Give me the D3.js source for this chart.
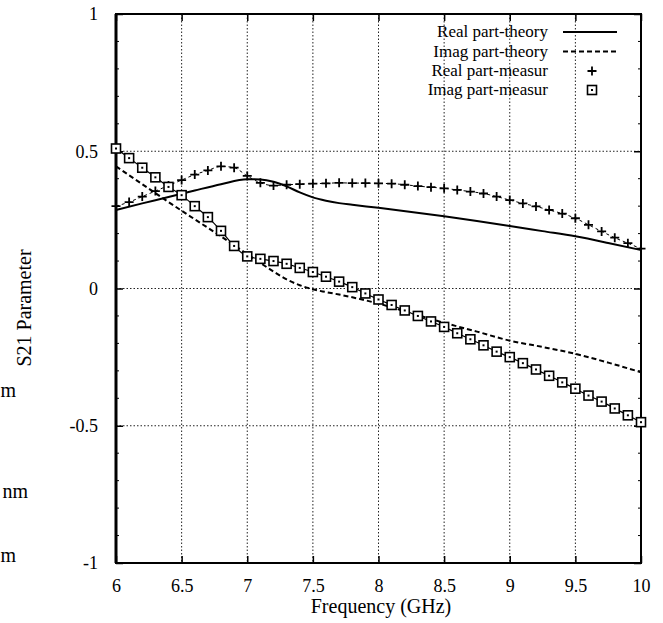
<!DOCTYPE html>
<html>
<head>
<meta charset="utf-8">
<script src="https://cdn.jsdelivr.net/npm/d3@7"></script>
<style>
  body { margin: 0; background: #fff; }
  svg text { font-family: "Liberation Serif", "Times New Roman", serif; fill: #000; }
</style>
</head>
<body>
<svg width="663" height="623"></svg>
<script>
// theory curves
const theoryFreq = [6.0, 6.2, 6.4, 6.6, 6.8, 7.0, 7.1, 7.2, 7.3, 7.4, 7.5, 7.6, 7.7, 7.8, 8.0, 8.25, 8.5, 8.75, 9.0, 9.25, 9.5, 9.75, 10.0];
const realTheory = [0.286, 0.31, 0.333, 0.357, 0.38, 0.398, 0.397, 0.389, 0.372, 0.35, 0.332, 0.32, 0.311, 0.305, 0.294, 0.279, 0.263, 0.246, 0.228, 0.209, 0.19, 0.166, 0.14];
const imagTheory = [0.445, 0.38, 0.315, 0.252, 0.19, 0.125, 0.093, 0.062, 0.033, 0.012, -0.003, -0.013, -0.022, -0.032, -0.055, -0.09, -0.125, -0.157, -0.19, -0.213, -0.238, -0.27, -0.305];

// measured points
const measFreq = [6.0, 6.1, 6.2, 6.3, 6.4, 6.5, 6.6, 6.7, 6.8, 6.9, 7.0, 7.1, 7.2, 7.3, 7.4, 7.5, 7.6, 7.7, 7.8, 7.9, 8.0,
  8.1, 8.2, 8.3, 8.4, 8.5, 8.6, 8.7, 8.8, 8.9, 9.0, 9.1, 9.2, 9.3, 9.4, 9.5, 9.6, 9.7, 9.8, 9.9, 10.0];
const realMeas = [0.30, 0.315, 0.335, 0.355, 0.375, 0.395, 0.415, 0.43, 0.445, 0.44, 0.41, 0.385, 0.375, 0.378, 0.38, 0.382, 0.383, 0.385, 0.384, 0.384, 0.383,
  0.382, 0.378, 0.373, 0.369, 0.365, 0.359, 0.353, 0.346, 0.335, 0.322, 0.31, 0.299, 0.286, 0.273, 0.256, 0.232, 0.208, 0.185, 0.165, 0.145];
const imagMeas = [0.51, 0.475, 0.44, 0.405, 0.37, 0.34, 0.30, 0.26, 0.21, 0.155, 0.117, 0.108, 0.10, 0.09, 0.075, 0.06, 0.043, 0.025, 0.005, -0.018, -0.04,
  -0.06, -0.08, -0.10, -0.12, -0.14, -0.163, -0.185, -0.207, -0.23, -0.25, -0.272, -0.295, -0.318, -0.342, -0.365, -0.39, -0.412, -0.437, -0.462, -0.487];

const xTicks = [6, 6.5, 7, 7.5, 8, 8.5, 9, 9.5, 10];
const yTicks = [-1, -0.5, 0, 0.5, 1];
const legendLabels = ["Real part-theory", "Imag part-theory", "Real part-measur", "Imag part-measur"];

const svg = d3.select("svg");
const plotL = 116, plotR = 641, plotT = 14, plotB = 563;

const x = d3.scaleLinear().domain([6, 10]).range([plotL, plotR]);
const y = d3.scaleLinear().domain([-1, 1]).range([plotB, plotT]);

// grid
const grid = svg.append("g").attr("stroke", "#222").attr("stroke-width", 1).attr("stroke-dasharray", "1.5,2");
grid.selectAll("line.gx")
  .data(xTicks.slice(1, -1))
  .join("line")
  .attr("class", "gx")
  .attr("x1", (d) => x(d)).attr("x2", (d) => x(d))
  .attr("y1", plotT).attr("y2", plotB);
grid.selectAll("line.gy")
  .data(yTicks.slice(1, -1))
  .join("line")
  .attr("class", "gy")
  .attr("x1", plotL).attr("x2", plotR)
  .attr("y1", (d) => y(d)).attr("y2", (d) => y(d));

// axes, ticks pointing inward (plain hyphen for negatives, like the scan)
const fmt = (d) => String(d);
const xAxis = svg.append("g")
  .attr("transform", `translate(0,${plotB})`)
  .call(d3.axisBottom(x).tickValues(xTicks).tickFormat(fmt).tickSizeInner(-7).tickSizeOuter(0).tickPadding(16));
const xTop = svg.append("g")
  .attr("transform", `translate(0,${plotT})`)
  .call(d3.axisTop(x).tickValues(xTicks).tickFormat("").tickSizeInner(-7).tickSizeOuter(0));
const yAxis = svg.append("g")
  .attr("transform", `translate(${plotL},0)`)
  .call(d3.axisLeft(y).tickValues(yTicks).tickFormat(fmt).tickSizeInner(-7).tickSizeOuter(0).tickPadding(18));
const yRight = svg.append("g")
  .attr("transform", `translate(${plotR},0)`)
  .call(d3.axisRight(y).tickValues(yTicks).tickFormat("").tickSizeInner(-7).tickSizeOuter(0));

[xAxis, xTop, yAxis, yRight].forEach((g) => {
  g.select(".domain").remove();
  g.selectAll("line").attr("stroke", "#000").attr("stroke-width", 1.5);
  g.selectAll("text").style("font-size", "18px").attr("fill", "#000");
});

// minor y ticks
const minorY = [-0.9, -0.8, -0.7, -0.6, -0.4, -0.3, -0.2, -0.1, 0.1, 0.2, 0.3, 0.4, 0.6, 0.7, 0.8, 0.9];
[yAxis, yRight].forEach((g, i) => {
  g.selectAll("line.minor")
    .data(minorY)
    .join("line")
    .attr("class", "minor")
    .attr("x1", 0).attr("x2", i === 0 ? 3 : -3)
    .attr("y1", (d) => y(d)).attr("y2", (d) => y(d))
    .attr("stroke", "#000");
});

// frame
svg.append("rect")
  .attr("x", plotL).attr("y", plotT)
  .attr("width", plotR - plotL).attr("height", plotB - plotT)
  .attr("fill", "none").attr("stroke", "#000").attr("stroke-width", 2);
svg.append("line")
  .attr("x1", plotL).attr("x2", plotL).attr("y1", plotT).attr("y2", plotB)
  .attr("stroke", "#000").attr("stroke-width", 3);

// curves
const theory = theoryFreq.map((f, i) => ({ f, re: realTheory[i], im: imagTheory[i] }));
const meas = measFreq.map((f, i) => ({ f, re: realMeas[i], im: imagMeas[i] }));

const lineRe = d3.line().x((d) => x(d.f)).y((d) => y(d.re)).curve(d3.curveMonotoneX);
const lineIm = d3.line().x((d) => x(d.f)).y((d) => y(d.im)).curve(d3.curveMonotoneX);

svg.append("path").datum(theory).attr("d", lineRe)
  .attr("fill", "none").attr("stroke", "#000").attr("stroke-width", 2);
svg.append("path").datum(theory).attr("d", lineIm)
  .attr("fill", "none").attr("stroke", "#000").attr("stroke-width", 2).attr("stroke-dasharray", "5,3");

// thin joins between measured points
svg.append("path").datum(meas).attr("d", lineRe)
  .attr("fill", "none").attr("stroke", "#000").attr("stroke-width", 1).attr("stroke-dasharray", "3,3");
svg.append("path").datum(meas).attr("d", lineIm)
  .attr("fill", "none").attr("stroke", "#000").attr("stroke-width", 1.2);

function drawPlus(g, cx, cy) {
  g.append("path")
    .attr("d", `M${cx - 4.5},${cy}H${cx + 4.5}M${cx},${cy - 4.5}V${cy + 4.5}`)
    .attr("stroke", "#000").attr("stroke-width", 1.8);
}
function drawSquare(g, cx, cy) {
  g.append("rect")
    .attr("x", cx - 4.5).attr("y", cy - 4.5).attr("width", 9).attr("height", 9)
    .attr("fill", "#fff").attr("stroke", "#000").attr("stroke-width", 1.6);
  g.append("rect")
    .attr("x", cx - 1).attr("y", cy - 1).attr("width", 2).attr("height", 2).attr("fill", "#000");
}

const pts = svg.append("g");
meas.forEach((d) => drawPlus(pts, x(d.f), y(d.re)));
meas.forEach((d) => drawSquare(pts, x(d.f), y(d.im)));

// legend
const leg = svg.append("g");
const legY = [32, 51.5, 71, 90];
leg.selectAll("text")
  .data(legendLabels)
  .join("text")
  .attr("x", 548)
  .attr("y", (d, i) => legY[i] + 5)
  .attr("text-anchor", "end")
  .style("font-size", "17px")
  .text((d) => d);
leg.append("line").attr("x1", 563).attr("x2", 617).attr("y1", legY[0]).attr("y2", legY[0])
  .attr("stroke", "#000").attr("stroke-width", 2);
leg.append("line").attr("x1", 563).attr("x2", 617).attr("y1", legY[1]).attr("y2", legY[1])
  .attr("stroke", "#000").attr("stroke-width", 2).attr("stroke-dasharray", "5,3");
drawPlus(leg, 592, legY[2]);
drawSquare(leg, 592, legY[3]);

// axis titles
svg.append("text")
  .attr("x", 381).attr("y", 613)
  .attr("text-anchor", "middle")
  .style("font-size", "20px")
  .text("Frequency (GHz)");
svg.append("text")
  .attr("transform", "translate(31,308) rotate(-90)")
  .attr("text-anchor", "middle")
  .style("font-size", "20px")
  .text("S21 Parameter");

// cut-off text at the left edge of the scan
const strayText = ["m", "nm", "m"];
const strayX = [16, 28, 16];
const strayY = [397, 498, 562];
svg.selectAll("text.stray")
  .data(strayText)
  .join("text")
  .attr("class", "stray")
  .attr("x", (d, i) => strayX[i])
  .attr("y", (d, i) => strayY[i])
  .attr("text-anchor", "end")
  .style("font-size", "20px")
  .text((d) => d);
</script>
</body>
</html>
